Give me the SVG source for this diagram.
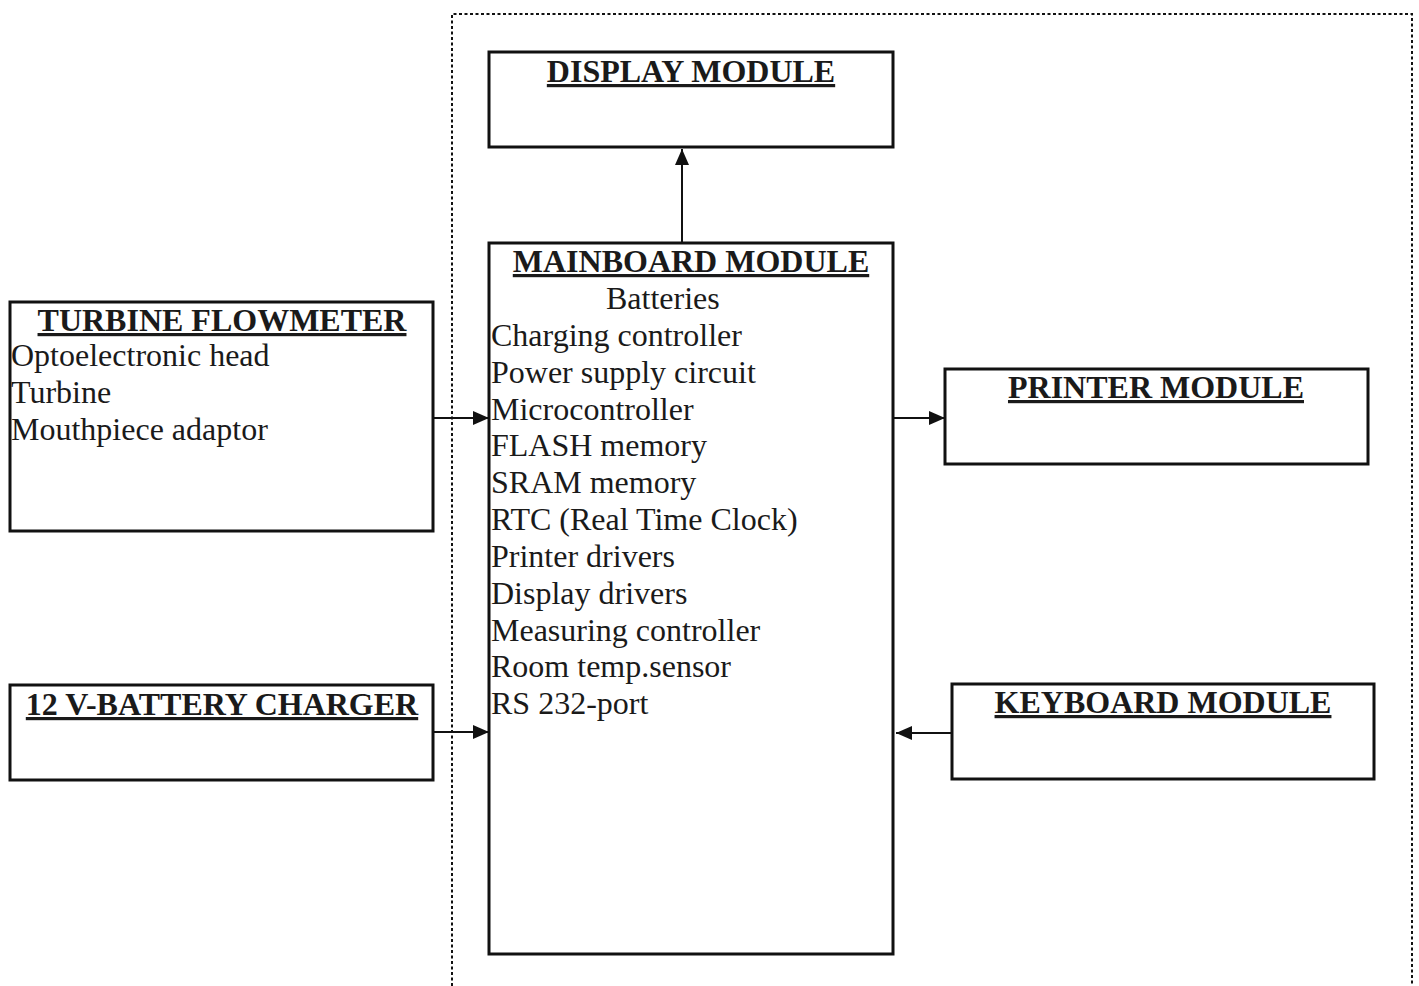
<svg xmlns="http://www.w3.org/2000/svg" width="1419" height="986" viewBox="0 0 1419 986">
<style>
.box{fill:#fff;stroke:#111;stroke-width:3}
.t{font-family:"Liberation Serif","Times New Roman",serif;font-size:32px;fill:#1a1a1a}
.h{font-family:"Liberation Serif","Times New Roman",serif;font-size:32px;font-weight:bold;fill:#1a1a1a;text-decoration:underline}
.c{stroke:#111;stroke-width:2;fill:none}
.frame{stroke:#111;stroke-width:2;fill:none;stroke-dasharray:3 2.5}
</style>
<defs>
<marker id="ah" markerUnits="userSpaceOnUse" markerWidth="16" markerHeight="14" refX="16" refY="7" orient="auto">
<polygon points="0,0 16,7 0,14" fill="#111"/>
</marker>
</defs>
<rect width="1419" height="986" fill="#fff"/>
<path class="frame" d="M452,986 L452,14 L1412,14 L1412,986"/>
<g id="display">
<rect class="box" x="489" y="52" width="404" height="95"/>
<text class="h" x="691" y="82" text-anchor="middle">DISPLAY MODULE</text>
</g>
<g id="mainboard">
<rect class="box" x="489" y="243" width="404" height="711"/>
<text class="h" x="691" y="272" text-anchor="middle">MAINBOARD MODULE</text>
<text class="t" x="606" y="309">Batteries</text>
<text class="t" x="491" y="346">Charging controller</text>
<text class="t" x="491" y="383">Power supply circuit</text>
<text class="t" x="491" y="420">Microcontroller</text>
<text class="t" x="491" y="456">FLASH memory</text>
<text class="t" x="491" y="493">SRAM memory</text>
<text class="t" x="491" y="530">RTC (Real Time Clock)</text>
<text class="t" x="491" y="567">Printer drivers</text>
<text class="t" x="491" y="604">Display drivers</text>
<text class="t" x="491" y="641">Measuring controller</text>
<text class="t" x="491" y="677">Room temp.sensor</text>
<text class="t" x="491" y="714">RS 232-port</text>
</g>
<g id="turbine">
<rect class="box" x="10" y="302" width="423" height="229"/>
<text class="h" x="222" y="331" text-anchor="middle">TURBINE FLOWMETER</text>
<text class="t" x="11" y="366">Optoelectronic head</text>
<text class="t" x="11" y="403">Turbine</text>
<text class="t" x="11" y="440">Mouthpiece adaptor</text>
</g>
<g id="charger">
<rect class="box" x="10" y="685" width="423" height="95"/>
<text class="h" x="222" y="715" text-anchor="middle">12 V-BATTERY CHARGER</text>
</g>
<g id="printer">
<rect class="box" x="945" y="369" width="423" height="95"/>
<text class="h" x="1156" y="398" text-anchor="middle">PRINTER MODULE</text>
</g>
<g id="keyboard">
<rect class="box" x="952" y="684" width="422" height="95"/>
<text class="h" x="1163" y="713" text-anchor="middle">KEYBOARD MODULE</text>
</g>
<g id="connectors">
<line class="c" x1="682" y1="242" x2="682" y2="149" marker-end="url(#ah)"/>
<line class="c" x1="434" y1="418" x2="489" y2="418" marker-end="url(#ah)"/>
<line class="c" x1="434" y1="732" x2="489" y2="732" marker-end="url(#ah)"/>
<line class="c" x1="894" y1="418" x2="945" y2="418" marker-end="url(#ah)"/>
<line class="c" x1="951" y1="733" x2="896" y2="733" marker-end="url(#ah)"/>
</g>
</svg>
